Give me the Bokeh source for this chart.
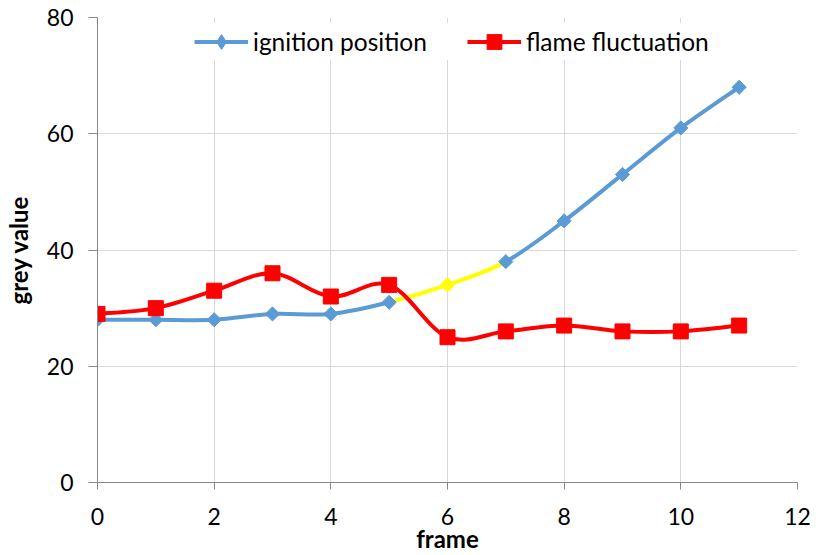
import numpy as np
from bokeh.plotting import figure
from bokeh.models import Legend, LegendItem, FixedTicker, Range1d, ColumnDataSource
from bokeh.embed import file_html
from bokeh.resources import INLINE

# ---- data ----
frames = [0, 1, 2, 3, 4, 5, 6, 7, 8, 9, 10, 11]
ignition = [28, 28, 28, 29, 29, 31, 34, 38, 45, 53, 61, 68]
flame = [29, 30, 33, 36, 32, 34, 25, 26, 27, 26, 26, 27]
highlight_segments = [5, 6]   # ignition segments starting at these frames drawn yellow
highlight_points = [6]        # ignition markers drawn yellow
x_ticks = [0, 2, 4, 6, 8, 10, 12]
y_ticks = [0, 20, 40, 60, 80]

BLUE = "#5B9BD5"
RED = "#FF0000"
YELLOW = "#FFFF00"
FONT = "Lato"
LW = 4


def smooth_segments(x, y):
    """Catmull-Rom style cubic Bezier segments (like Excel's smoothed lines)."""
    x = np.asarray(x, float)
    y = np.asarray(y, float)
    n = len(x)
    xp = np.concatenate([[x[0]], x, [x[-1]]])
    yp = np.concatenate([[y[0]], y, [y[-1]]])
    i = np.arange(n - 1)
    return dict(
        x0=xp[i + 1], y0=yp[i + 1], x1=xp[i + 2], y1=yp[i + 2],
        cx0=xp[i + 1] + (xp[i + 2] - xp[i]) / 6.0,
        cy0=yp[i + 1] + (yp[i + 2] - yp[i]) / 6.0,
        cx1=xp[i + 2] - (xp[i + 3] - xp[i + 1]) / 6.0,
        cy1=yp[i + 2] - (yp[i + 3] - yp[i + 1]) / 6.0,
    )


p = figure(width=821, height=555,
           x_range=Range1d(0, 12), y_range=Range1d(0, 80),
           output_backend="svg", toolbar_location=None,
           min_border_left=95, min_border_right=24,
           min_border_top=17, min_border_bottom=72)
p.outline_line_color = None
p.background_fill_color = "white"

# axes
for ax in (p.xaxis[0], p.yaxis[0]):
    ax.axis_line_color = "#868686"
    ax.major_tick_line_color = "#868686"
    ax.minor_tick_line_color = None
    ax.major_tick_in = 0
    ax.major_label_text_font = FONT
    ax.major_label_text_font_size = "23px"
    ax.major_label_text_color = "black"
    ax.axis_label_text_font = FONT
    ax.axis_label_text_font_style = "bold"
    ax.axis_label_text_font_size = "24px"
    ax.axis_label_text_color = "black"
p.xaxis.major_tick_out = 7
p.yaxis.major_tick_out = 9
p.xaxis.ticker = FixedTicker(ticks=x_ticks)
p.yaxis.ticker = FixedTicker(ticks=y_ticks)
p.xaxis.axis_label = "frame"
p.yaxis.axis_label = "grey value"
p.xaxis.major_label_standoff = 18
p.yaxis.major_label_standoff = 15
p.xaxis.axis_label_standoff = -4
p.yaxis.axis_label_standoff = 11

p.xgrid.ticker = FixedTicker(ticks=x_ticks)
p.ygrid.ticker = FixedTicker(ticks=y_ticks)
p.grid.grid_line_color = "#D9D9D9"
p.grid.grid_line_width = 1

# ignition position (smoothed, with yellow highlighted segments)
seg = smooth_segments(frames, ignition)
seg["color"] = [YELLOW if frames[k] in highlight_segments else BLUE
                for k in range(len(frames) - 1)]
p.bezier(x0="x0", y0="y0", x1="x1", y1="y1", cx0="cx0", cy0="cy0",
         cx1="cx1", cy1="cy1", line_color="color", line_width=LW,
         source=ColumnDataSource(seg))

# flame fluctuation (smoothed)
seg2 = smooth_segments(frames, flame)
p.bezier(x0="x0", y0="y0", x1="x1", y1="y1", cx0="cx0", cy0="cy0",
         cx1="cx1", cy1="cy1", line_color=RED, line_width=LW,
         source=ColumnDataSource(seg2))

# markers
ign_colors = [YELLOW if f in highlight_points else BLUE for f in frames]
p.scatter(frames, ignition, marker="square", angle=np.pi / 4, size=10,
          fill_color=ign_colors, line_color=ign_colors)
p.scatter(frames, flame, marker="square", size=15,
          fill_color=RED, line_color=RED)

# legend proxies (no visible data)
nan2 = [np.nan, np.nan]
l1 = p.line(x=nan2, y=nan2, line_color=BLUE, line_width=LW)
m1 = p.scatter(x=[np.nan], y=[np.nan], marker="diamond", size=15,
               fill_color=BLUE, line_color=BLUE)
l2 = p.line(x=nan2, y=nan2, line_color=RED, line_width=LW)
m2 = p.scatter(x=[np.nan], y=[np.nan], marker="square", size=15,
               fill_color=RED, line_color=RED)

legend = Legend(items=[LegendItem(label="ignition position", renderers=[l1, m1], index=0),
                       LegendItem(label="flame fluctuation", renderers=[l2, m2], index=0)],
                orientation="horizontal", location=(97, 422),
                label_text_font=FONT, label_text_font_size="24.5px",
                label_text_color="black",
                glyph_width=54, glyph_height=37, label_standoff=5,
                spacing=40, padding=5, margin=0,
                border_line_color=None,
                background_fill_color="white", background_fill_alpha=1.0)
p.add_layout(legend)

open("out.html", "w").write(file_html(p, INLINE))
